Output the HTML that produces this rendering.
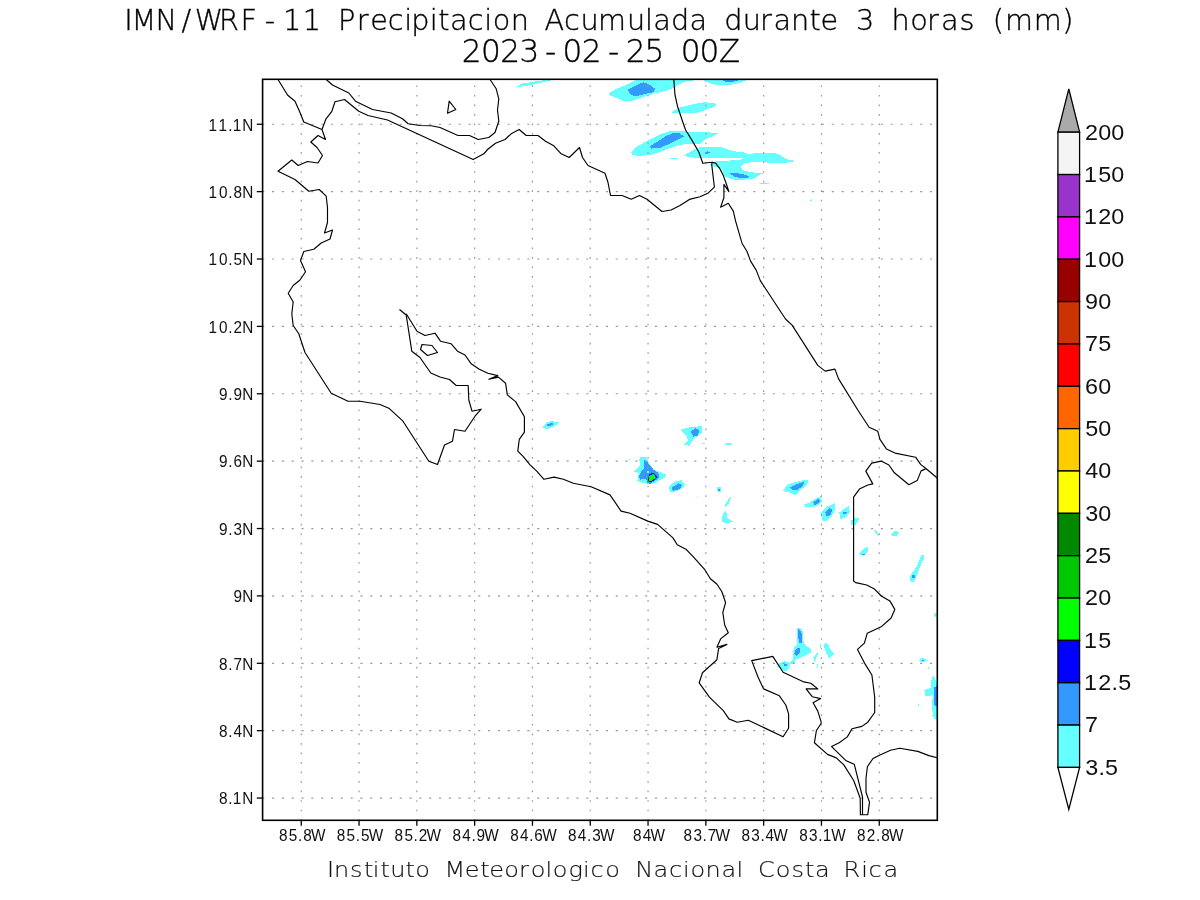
<!DOCTYPE html>
<html><head><meta charset="utf-8"><title>IMN/WRF-11 Precipitacion Acumulada</title>
<style>html,body{margin:0;padding:0;background:#fff;width:1200px;height:900px;overflow:hidden}svg{display:block}</style>
</head><body>
<svg width="1200" height="900" viewBox="0 0 1200 900">
<rect x="0" y="0" width="1200" height="900" fill="#fff"/>
<g shape-rendering="crispEdges">
<polygon points="517.0,86.5 522.0,83.5 535.0,81.5 545.0,80.0 553.0,80.0 545.0,81.7 533.0,84.5 527.0,85.7 521.0,86.7" fill="#66ffff"/>
<polygon points="609.2,93.0 616.7,88.8 626.7,84.7 635.0,80.5 635.0,80.0 696.7,80.0 686.7,81.3 681.7,83.0 670.0,89.7 653.3,93.8 633.3,100.5 623.3,101.3 616.7,98.0 610.0,95.5" fill="#66ffff"/>
<polygon points="627.5,89.7 635.8,85.5 643.3,82.2 650.0,84.7 655.0,88.8 653.3,92.2 635.0,96.3 630.8,94.7" fill="#3399ff"/>
<polygon points="703.0,80.0 747.0,80.0 740.0,83.0 727.0,85.5 715.0,84.5 706.0,82.0" fill="#66ffff"/>
<polygon points="722.0,80.0 740.0,80.0 733.0,81.7 725.0,81.7" fill="#3399ff"/>
<polygon points="671.7,112.2 678.3,108.0 695.0,103.8 705.0,102.2 716.7,103.8 715.0,106.3 696.7,113.0 686.7,113.3 673.3,113.0" fill="#66ffff"/>
<polygon points="631.2,152.2 635.0,147.8 647.0,141.0 659.0,135.0 669.5,131.2 683.0,131.2 695.0,132.3 704.0,132.0 718.2,133.2 713.0,135.8 704.0,140.2 701.0,143.7 690.5,144.0 680.0,144.7 665.0,150.0 650.0,155.2 636.5,155.7 632.0,154.5" fill="#66ffff"/>
<polygon points="650.0,146.3 656.0,142.5 665.0,136.5 672.5,133.2 680.0,133.5 683.8,136.5 677.0,140.2 660.5,147.8 651.5,148.5" fill="#3399ff"/>
<polygon points="684.0,155.5 690.0,152.0 697.0,148.0 703.0,146.5 718.0,146.5 724.0,148.0 732.0,151.0 744.0,152.5 749.0,154.0 756.0,153.0 775.0,153.0 780.0,155.0 786.0,159.0 796.0,161.2 788.0,162.5 773.0,163.5 760.0,161.5 745.0,163.0 741.0,166.0 742.0,170.0 750.0,172.0 763.0,173.5 760.0,174.5 754.0,178.5 740.0,180.0 734.0,179.5 725.0,177.0 722.0,170.0 720.0,168.0 714.0,166.5 710.0,164.5 713.0,162.5 716.0,161.5 730.0,160.5 741.0,159.5 742.0,158.5 730.0,157.5 717.0,158.0 703.0,158.5 690.0,157.0 684.0,156.0" fill="#66ffff"/>
<polygon points="730.0,173.5 736.0,173.0 744.0,174.5 749.0,176.5 748.0,178.0 740.0,178.0 734.0,176.5" fill="#3399ff"/>
<polygon points="705.0,152.5 707.5,151.3 710.0,152.3 708.0,153.6 705.5,153.6" fill="#3399ff"/>
<polygon points="669.5,157.5 677.7,157.5 677.7,158.8 669.5,158.8" fill="#66ffff"/>
<polygon points="760.0,183.0 768.5,183.0 768.5,184.0 760.0,184.0" fill="#66ffff"/>
<polygon points="542.5,427.4 546.5,422.8 552.0,421.0 559.3,422.5 553.8,426.5 546.5,429.3" fill="#66ffff"/>
<polygon points="546.5,424.3 552.0,423.2 553.8,424.3 550.2,426.1 546.9,425.8" fill="#3399ff"/>
<polygon points="640.1,457.5 646.0,457.3 647.7,460.4 649.8,464.7 654.5,469.7 661.3,472.7 665.9,474.4 665.0,477.3 660.4,479.9 657.9,481.6 655.3,482.8 649.8,484.5 646.9,484.1 644.8,482.8 640.6,482.4 637.2,480.7 638.0,478.2 638.9,473.1 634.2,471.4 636.8,468.9 640.1,465.1 639.3,459.6" fill="#66ffff"/>
<polygon points="644.4,460.4 646.5,460.9 650.3,465.9 653.6,469.7 657.5,472.3 659.6,476.1 657.9,479.0 653.6,481.6 650.3,483.7 647.7,483.3 646.0,479.0 642.7,478.6 640.1,479.9 638.9,476.9 641.0,471.8 643.9,468.9 643.9,463.0" fill="#3399ff"/>
<polygon points="646.9,471.2 648.8,471.2 648.8,472.9 646.9,472.9" fill="#66ffff"/>
<polygon points="648.6,475.6 649.8,474.0 653.2,472.3 655.8,474.8 657.0,476.9 655.3,479.4 652.0,481.6 648.6,481.6 648.2,479.0" fill="#0000ff"/>
<polygon points="649.4,476.1 652.8,474.0 654.9,475.2 655.8,477.3 653.6,479.4 651.1,481.2 649.0,481.1 649.2,478.2" fill="#00ff00"/>
<polygon points="668.4,487.0 674.8,481.5 681.3,480.2 684.9,484.2 682.2,488.8 674.8,491.6 670.3,492.5" fill="#66ffff"/>
<polygon points="671.2,487.9 678.5,483.3 682.2,485.2 680.3,488.8 673.0,490.7" fill="#3399ff"/>
<polygon points="681.3,429.3 689.5,427.4 702.3,426.1 702.3,432.9 695.0,437.5 691.3,442.1 689.5,445.7 684.0,444.8 687.7,440.3 686.7,435.7 683.1,432.9" fill="#66ffff"/>
<polygon points="690.4,431.1 695.9,428.3 699.6,430.2 697.7,435.7 693.2,436.6" fill="#3399ff"/>
<polygon points="702.0,443.0 705.0,443.0 705.0,444.0 702.0,444.0" fill="#66ffff"/>
<polygon points="724.0,443.0 732.6,443.3 731.0,445.0 726.0,444.5" fill="#66ffff"/>
<polygon points="717.0,487.5 720.5,487.0 720.7,491.6 718.0,491.6" fill="#66ffff"/>
<polygon points="718.0,488.5 719.8,488.5 719.8,490.5 718.0,490.5" fill="#3399ff"/>
<polygon points="724.3,506.0 729.0,498.0 731.7,496.0 729.0,503.0 726.0,507.0" fill="#66ffff"/>
<polygon points="721.6,521.0 723.0,513.0 726.0,510.8 727.5,518.0 732.6,521.5 726.0,523.7" fill="#66ffff"/>
<polygon points="782.8,490.5 788.4,484.2 795.5,482.0 804.0,479.9 808.3,480.6 806.8,484.9 802.6,488.4 798.3,492.7 794.8,495.5 791.3,492.7 784.2,491.3" fill="#66ffff"/>
<polygon points="789.8,487.7 796.9,484.2 804.0,482.0 803.3,485.6 796.2,490.5 792.7,489.8" fill="#3399ff"/>
<polygon points="804.0,504.0 808.3,503.3 813.9,499.8 821.0,496.2 821.7,501.9 818.2,505.4 812.5,507.5 805.4,506.8" fill="#66ffff"/>
<polygon points="813.2,502.6 818.2,498.3 820.3,500.5 818.2,504.0 814.6,504.7" fill="#3399ff"/>
<polygon points="821.0,512.5 826.7,506.8 834.5,503.3 835.5,509.7 830.9,516.7 826.7,521.3 822.4,520.3" fill="#66ffff"/>
<polygon points="825.2,512.5 829.5,508.3 832.3,509.0 830.9,514.6 826.7,516.7" fill="#3399ff"/>
<polygon points="839.4,512.5 843.7,509.0 848.6,506.1 850.0,511.8 846.5,516.7 840.1,519.6" fill="#66ffff"/>
<polygon points="843.0,512.5 847.0,512.2 846.5,513.5 843.5,513.6" fill="#3399ff"/>
<polygon points="850.8,521.0 855.0,517.5 859.3,517.5 857.8,521.7 855.0,525.2 850.8,525.2" fill="#66ffff"/>
<polygon points="874.1,530.2 875.5,530.0 879.1,534.5 878.5,536.0 876.0,533.5" fill="#66ffff"/>
<polygon points="891.1,534.5 895.0,531.0 898.9,532.0 897.0,535.9 892.0,536.0" fill="#66ffff"/>
<polygon points="859.3,553.6 864.2,547.9 867.8,547.2 867.5,552.2 863.5,555.7 860.7,555.0" fill="#66ffff"/>
<polygon points="862.0,554.0 864.5,553.5 864.5,554.6 862.0,554.8" fill="#3399ff"/>
<polygon points="919.5,559.0 922.0,555.5 924.4,555.0 923.5,560.0 919.5,560.0" fill="#66ffff"/>
<polygon points="809.5,201.2 811.5,199.2 812.3,201.5" fill="#66ffff"/>
<polygon points="928.2,666.8 929.4,666.8 929.4,669.0 928.2,669.0" fill="#66ffff"/>
<polygon points="917.5,704.0 918.8,704.0 918.8,705.5 917.5,705.5" fill="#66ffff"/>
<polygon points="628.5,458.6 630.0,458.6 630.0,459.8 628.5,459.8" fill="#66ffff"/>
<polygon points="696.8,497.0 697.9,497.0 697.9,498.0 696.8,498.0" fill="#66ffff"/>
<polygon points="909.7,577.0 912.8,571.7 917.1,566.4 921.3,554.8 924.4,554.4 923.4,559.0 919.2,568.5 916.0,578.0 913.9,582.2 910.7,582.2" fill="#66ffff"/>
<polygon points="911.8,575.5 914.5,574.5 914.8,577.5 912.3,578.0" fill="#3399ff"/>
<polygon points="934.0,614.0 935.5,612.8 937.0,613.0 937.0,617.0 935.0,617.0" fill="#66ffff"/>
<polygon points="919.2,660.5 921.5,658.2 924.5,658.5 926.6,660.5 923.0,662.4 920.0,662.0" fill="#66ffff"/>
<polygon points="921.5,659.8 923.5,659.8 923.5,661.0 921.5,661.0" fill="#3399ff"/>
<polygon points="924.4,689.9 930.8,687.8 931.8,677.2 934.0,676.2 937.0,683.6 937.0,719.4 934.0,719.4 931.8,706.8 932.9,695.2 925.5,696.2" fill="#66ffff"/>
<polygon points="934.0,687.8 937.0,685.7 937.0,706.8 934.0,704.7" fill="#3399ff"/>
<polygon points="797.3,628.0 801.3,628.7 803.3,632.7 803.3,635.3 802.7,639.3 804.0,644.0 811.3,649.3 810.7,652.7 801.3,657.3 795.3,660.0 794.7,662.7 790.0,664.0 789.3,668.0 786.7,670.7 783.3,670.7 777.3,666.7 778.7,663.3 782.0,662.0 785.3,661.3 790.0,662.7 792.7,660.0 792.7,653.3 794.0,647.3 796.7,644.7 797.3,638.0 796.7,632.0" fill="#66ffff"/>
<polygon points="798.3,629.3 801.3,631.3 802.0,636.7 801.7,643.3 799.3,643.3 798.3,637.3" fill="#3399ff"/>
<polygon points="794.7,651.3 798.0,647.3 800.7,648.7 799.3,653.3 796.7,655.7 794.3,654.0" fill="#3399ff"/>
<polygon points="784.0,664.3 786.5,664.0 787.7,666.3 784.0,666.3" fill="#3399ff"/>
<polygon points="812.7,657.3 816.0,654.7 817.3,650.3 817.7,654.7 815.7,658.3 815.3,661.7 814.3,661.7 814.0,659.0" fill="#66ffff"/>
<polygon points="820.0,644.3 821.0,644.3 821.0,647.7 820.0,647.7" fill="#66ffff"/>
<polygon points="817.0,664.0 818.3,664.5 818.3,667.7 817.0,667.7" fill="#66ffff"/>
<polygon points="824.3,643.7 826.7,643.0 828.7,645.0 829.3,648.0 834.7,654.3 831.3,656.0 828.7,658.7 828.0,656.0 824.7,649.3 824.0,645.3" fill="#66ffff"/>
</g>
<g stroke="#999" stroke-width="1.2"><line x1="301.25" y1="820.90" x2="301.25" y2="80.1" stroke-dasharray="1.7 7.83"/><line x1="359.05" y1="820.90" x2="359.05" y2="80.1" stroke-dasharray="1.7 7.83"/><line x1="416.85" y1="820.90" x2="416.85" y2="80.1" stroke-dasharray="1.7 7.83"/><line x1="474.65" y1="820.90" x2="474.65" y2="80.1" stroke-dasharray="1.7 7.83"/><line x1="532.45" y1="820.90" x2="532.45" y2="80.1" stroke-dasharray="1.7 7.83"/><line x1="590.25" y1="820.90" x2="590.25" y2="80.1" stroke-dasharray="1.7 7.83"/><line x1="648.05" y1="820.90" x2="648.05" y2="80.1" stroke-dasharray="1.7 7.83"/><line x1="705.85" y1="820.90" x2="705.85" y2="80.1" stroke-dasharray="1.7 7.83"/><line x1="763.65" y1="820.90" x2="763.65" y2="80.1" stroke-dasharray="1.7 7.83"/><line x1="821.45" y1="820.90" x2="821.45" y2="80.1" stroke-dasharray="1.7 7.83"/><line x1="879.25" y1="820.90" x2="879.25" y2="80.1" stroke-dasharray="1.7 7.83"/><line x1="262.20" y1="124.25" x2="936.5" y2="124.25" stroke-dasharray="2.1 7.72"/><line x1="262.20" y1="191.63" x2="936.5" y2="191.63" stroke-dasharray="2.1 7.72"/><line x1="262.20" y1="259.01" x2="936.5" y2="259.01" stroke-dasharray="2.1 7.72"/><line x1="262.20" y1="326.39" x2="936.5" y2="326.39" stroke-dasharray="2.1 7.72"/><line x1="262.20" y1="393.77" x2="936.5" y2="393.77" stroke-dasharray="2.1 7.72"/><line x1="262.20" y1="461.15" x2="936.5" y2="461.15" stroke-dasharray="2.1 7.72"/><line x1="262.20" y1="528.53" x2="936.5" y2="528.53" stroke-dasharray="2.1 7.72"/><line x1="262.20" y1="595.91" x2="936.5" y2="595.91" stroke-dasharray="2.1 7.72"/><line x1="262.20" y1="663.29" x2="936.5" y2="663.29" stroke-dasharray="2.1 7.72"/><line x1="262.20" y1="730.67" x2="936.5" y2="730.67" stroke-dasharray="2.1 7.72"/><line x1="262.20" y1="798.05" x2="936.5" y2="798.05" stroke-dasharray="2.1 7.72"/></g>
<g fill="none" stroke="#000" stroke-width="1.15" stroke-linejoin="round"><polyline points="278.0,79.5 287.5,95.0 295.0,101.2 300.0,112.5 303.8,122.0 322.0,129.5"/><polyline points="322.0,129.5 325.5,139.5 318.0,135.5 310.8,142.0 317.0,147.5 322.5,155.5 318.0,163.0 307.5,161.5 298.2,165.5 291.8,160.0 278.0,171.2 295.0,179.5 308.8,191.2 319.2,189.5 326.2,196.2 327.5,207.5 327.5,222.5 324.5,233.0 332.5,230.0 330.0,239.0 321.2,243.0 313.8,249.2 303.8,251.5 300.5,260.5 305.5,271.8 300.0,280.0 293.2,285.5 288.2,293.2 293.2,302.0 291.8,313.8 293.2,325.5 298.8,333.8 305.0,352.5 331.2,393.2 348.0,401.2 360.0,401.2 380.0,404.5 388.8,408.2 403.0,421.2 428.8,461.2 437.5,464.5 444.5,445.0 452.5,441.2 454.5,429.5 465.0,431.2 475.0,416.2 481.2,409.2 472.0,411.2 468.8,400.0 468.2,385.5 456.2,385.5 449.5,379.5 440.0,377.0 430.8,373.0 420.0,357.5 411.8,351.2 406.2,315.0 399.5,309.5"/><polyline points="406.2,313.8 417.0,331.2 425.0,335.5 435.0,333.2 440.5,341.2 451.2,343.8 457.5,351.2 465.0,355.0 471.2,363.8 478.9,368.9 487.8,373.3 497.8,375.6 488.9,379.3 498.4,377.1 505.6,383.3 507.3,394.9 515.6,401.6 524.4,416.7 524.4,432.2 519.3,439.3 517.8,451.1 523.3,456.7 529.6,464.4 536.7,471.1 544.0,479.3 554.0,477.1 563.3,479.3 573.3,483.3 591.1,486.7 610.0,494.9 621.1,511.1 630.0,513.3 647.8,521.1 657.6,524.4 673.0,537.9 677.2,544.7 686.4,549.6 693.8,557.4 704.8,569.7 710.4,578.7 717.0,584.3 721.9,591.7 725.6,602.7 722.8,612.5 724.7,625.0 728.3,632.8 720.6,638.9 716.9,647.2 726.9,644.4 718.6,648.6 716.9,659.7 702.5,672.8 699.2,682.8 709.4,697.2 723.3,710.6 728.9,718.9 737.2,722.2 748.3,720.3 783.1,736.7 788.6,728.3 788.6,713.9 785.8,705.0 779.4,695.8 763.6,688.9 758.1,677.2 751.7,660.6 772.8,656.4 783.1,672.2 803.9,681.9 810.8,683.3 817.8,688.9 806.1,688.9 812.2,696.7 820.6,698.6 813.1,702.8 817.8,711.1 821.1,721.8 821.1,723.5 816.4,730.5 814.4,742.8 827.5,754.4 836.3,757.9 843.8,764.9 853.8,780.7 860.2,798.2 860.4,814.7 867.8,814.7 869.5,802.3 866.0,792.3 866.0,778.3 867.4,766.7 873.0,758.5 880.0,755.0 890.5,750.3 899.8,748.2 917.8,751.4 928.9,755.6 937.2,757.8"/><polyline points="322.0,129.5 325.8,119.2 331.7,111.7 335.0,101.7 344.5,99.5 358.8,111.2 368.0,115.5 387.5,120.0 473.2,159.5 483.8,153.8 487.5,149.5 495.5,143.2 505.0,139.5 511.2,133.8 519.2,129.5 526.2,135.5 538.0,135.5 545.5,141.2 553.8,145.8 561.2,153.8 569.2,157.5 579.5,147.5 582.5,157.5 588.0,165.5 605.0,173.2 608.0,182.5 610.5,195.5 622.0,195.5 631.2,199.2 639.5,195.5 647.0,199.2 662.0,211.5 671.1,210.0 680.0,205.6 689.4,199.4 700.0,196.7 707.8,193.3 714.4,187.2 711.7,164.4 712.2,162.2"/><polyline points="326.2,79.5 332.5,85.0 348.8,93.0 355.5,101.2 372.5,109.5 391.2,113.0 402.5,118.8 408.2,123.8 420.0,125.5 431.2,125.8 440.0,127.5 458.0,135.5 469.5,135.5 478.2,139.5 488.8,137.5 495.0,132.5 498.8,121.2 497.5,110.0 498.8,98.8 496.2,88.8 490.0,79.5"/><polyline points="673.8,79.5 675.0,95.0 677.5,106.2 682.5,121.2 685.6,130.0 692.2,140.6 698.9,152.2 702.8,163.3 712.2,162.2 715.6,163.1 720.0,168.9 723.3,175.6 726.1,183.3 728.9,191.7 723.9,184.4 723.9,197.8 720.6,207.2 728.3,203.3 733.3,211.1 735.6,221.1 742.0,243.2 746.9,251.3 750.6,261.1 756.2,270.1 760.3,280.6 785.5,319.0 792.1,325.1 817.8,365.4 825.1,371.1 834.9,369.1 838.6,378.9 857.8,410.0 869.1,427.2 877.8,431.3 880.0,439.4 886.4,448.9 895.0,453.1 915.6,457.2 920.6,464.4 925.6,468.3 937.2,478.0"/><polyline points="925.6,468.9 921.1,470.9 917.2,480.6 908.9,484.7 894.4,472.8 888.9,465.0 881.1,461.1 871.7,463.1 865.8,471.1 872.8,483.9 867.8,485.0 859.4,489.1 853.6,497.2 853.6,581.0 855.7,582.6 866.7,585.0 874.0,588.7 881.3,596.0 889.9,600.9 894.8,609.4 891.1,618.0 881.7,626.4 867.2,633.3 864.4,643.1 857.5,649.4 865.0,663.9 871.9,675.0 874.7,697.2 874.7,712.5 867.8,722.2 861.9,726.4 852.0,728.8 847.3,736.9 839.2,742.8 831.6,746.6 846.2,760.8 854.3,764.3 862.5,797.0 862.5,814.7"/><polygon points="422.0,344.5 432.0,345.5 437.5,352.5 427.5,355.5 420.5,349.5"/><polygon points="449.2,101.2 455.8,109.5 447.5,113.2"/></g>
<rect x="262.6" y="79.3" width="674.7" height="741.0" fill="none" stroke="#000" stroke-width="1.6"/>
<g stroke="#000" stroke-width="1.3"><line x1="301.25" y1="820.3" x2="301.25" y2="825.8"/><line x1="256.8" y1="124.25" x2="262.6" y2="124.25"/><line x1="359.05" y1="820.3" x2="359.05" y2="825.8"/><line x1="256.8" y1="191.63" x2="262.6" y2="191.63"/><line x1="416.85" y1="820.3" x2="416.85" y2="825.8"/><line x1="256.8" y1="259.01" x2="262.6" y2="259.01"/><line x1="474.65" y1="820.3" x2="474.65" y2="825.8"/><line x1="256.8" y1="326.39" x2="262.6" y2="326.39"/><line x1="532.45" y1="820.3" x2="532.45" y2="825.8"/><line x1="256.8" y1="393.77" x2="262.6" y2="393.77"/><line x1="590.25" y1="820.3" x2="590.25" y2="825.8"/><line x1="256.8" y1="461.15" x2="262.6" y2="461.15"/><line x1="648.05" y1="820.3" x2="648.05" y2="825.8"/><line x1="256.8" y1="528.53" x2="262.6" y2="528.53"/><line x1="705.85" y1="820.3" x2="705.85" y2="825.8"/><line x1="256.8" y1="595.91" x2="262.6" y2="595.91"/><line x1="763.65" y1="820.3" x2="763.65" y2="825.8"/><line x1="256.8" y1="663.29" x2="262.6" y2="663.29"/><line x1="821.45" y1="820.3" x2="821.45" y2="825.8"/><line x1="256.8" y1="730.67" x2="262.6" y2="730.67"/><line x1="879.25" y1="820.3" x2="879.25" y2="825.8"/><line x1="256.8" y1="798.05" x2="262.6" y2="798.05"/></g>
<g stroke="#000" stroke-width="1.3"><polygon points="1057.9,132.2 1068.8,88.9 1079.6,132.2" fill="#aaaaaa"/><rect x="1057.9" y="132.20" width="21.7" height="42.35" fill="#f4f4f4"/><rect x="1057.9" y="174.55" width="21.7" height="42.35" fill="#9933cc"/><rect x="1057.9" y="216.90" width="21.7" height="42.35" fill="#ff00ff"/><rect x="1057.9" y="259.25" width="21.7" height="42.35" fill="#990000"/><rect x="1057.9" y="301.60" width="21.7" height="42.35" fill="#cc3300"/><rect x="1057.9" y="343.95" width="21.7" height="42.35" fill="#ff0000"/><rect x="1057.9" y="386.30" width="21.7" height="42.35" fill="#ff6600"/><rect x="1057.9" y="428.65" width="21.7" height="42.35" fill="#ffcc00"/><rect x="1057.9" y="471.00" width="21.7" height="42.35" fill="#ffff00"/><rect x="1057.9" y="513.35" width="21.7" height="42.35" fill="#008800"/><rect x="1057.9" y="555.70" width="21.7" height="42.35" fill="#00c800"/><rect x="1057.9" y="598.05" width="21.7" height="42.35" fill="#00ff00"/><rect x="1057.9" y="640.40" width="21.7" height="42.35" fill="#0000ff"/><rect x="1057.9" y="682.75" width="21.7" height="42.35" fill="#3399ff"/><rect x="1057.9" y="725.10" width="21.7" height="42.35" fill="#66ffff"/><polygon points="1057.9,767.45 1068.8,809.3 1079.6,767.45" fill="#fff"/></g>
<g><text transform="translate(0 840.70) scale(0.4400 0.5)" x="634.11 656.38 677.30 689.11 706.69" style="font-family:'Liberation Sans', sans-serif;font-size:34.84px" fill="#111">85.8W</text><text transform="translate(0 840.70) scale(0.4400 0.5)" x="765.47 787.74 808.67 820.47 838.05" style="font-family:'Liberation Sans', sans-serif;font-size:34.84px" fill="#111">85.5W</text><text transform="translate(0 840.70) scale(0.4400 0.5)" x="896.84 919.11 940.03 951.56 969.42" style="font-family:'Liberation Sans', sans-serif;font-size:34.84px" fill="#111">85.2W</text><text transform="translate(0 840.70) scale(0.4400 0.5)" x="1028.20 1050.47 1071.39 1082.93 1100.78" style="font-family:'Liberation Sans', sans-serif;font-size:34.84px" fill="#111">84.9W</text><text transform="translate(0 840.70) scale(0.4400 0.5)" x="1159.56 1181.84 1202.76 1214.29 1232.14" style="font-family:'Liberation Sans', sans-serif;font-size:34.84px" fill="#111">84.6W</text><text transform="translate(0 840.70) scale(0.4400 0.5)" x="1290.93 1313.20 1334.12 1345.93 1363.51" style="font-family:'Liberation Sans', sans-serif;font-size:34.84px" fill="#111">84.3W</text><text transform="translate(0 840.70) scale(0.4400 0.5)" x="1438.65 1460.93 1478.51" style="font-family:'Liberation Sans', sans-serif;font-size:34.84px" fill="#111">84W</text><text transform="translate(0 840.70) scale(0.4400 0.5)" x="1553.65 1575.93 1596.85 1608.38 1626.24" style="font-family:'Liberation Sans', sans-serif;font-size:34.84px" fill="#111">83.7W</text><text transform="translate(0 840.70) scale(0.4400 0.5)" x="1685.02 1707.29 1728.21 1740.02 1757.60" style="font-family:'Liberation Sans', sans-serif;font-size:34.84px" fill="#111">83.4W</text><text transform="translate(0 840.70) scale(0.4400 0.5)" x="1816.38 1838.65 1859.58 1869.81 1888.96" style="font-family:'Liberation Sans', sans-serif;font-size:34.84px" fill="#111">83.1W</text><text transform="translate(0 840.70) scale(0.4400 0.5)" x="1947.74 1969.75 1990.94 2002.74 2020.33" style="font-family:'Liberation Sans', sans-serif;font-size:34.84px" fill="#111">82.8W</text><text transform="translate(0 130.55) scale(0.4400 0.5)" x="474.13 496.41 518.89 529.13 550.55" style="font-family:'Liberation Sans', sans-serif;font-size:34.84px" fill="#111">11.1N</text><text transform="translate(0 197.93) scale(0.4400 0.5)" x="474.13 497.70 518.89 530.70 550.55" style="font-family:'Liberation Sans', sans-serif;font-size:34.84px" fill="#111">10.8N</text><text transform="translate(0 265.31) scale(0.4400 0.5)" x="474.13 497.70 518.89 530.70 550.55" style="font-family:'Liberation Sans', sans-serif;font-size:34.84px" fill="#111">10.5N</text><text transform="translate(0 332.69) scale(0.4400 0.5)" x="474.13 497.70 518.89 530.43 550.55" style="font-family:'Liberation Sans', sans-serif;font-size:34.84px" fill="#111">10.2N</text><text transform="translate(0 400.07) scale(0.4400 0.5)" x="497.70 518.89 530.43 550.55" style="font-family:'Liberation Sans', sans-serif;font-size:34.84px" fill="#111">9.9N</text><text transform="translate(0 467.45) scale(0.4400 0.5)" x="497.70 518.89 530.43 550.55" style="font-family:'Liberation Sans', sans-serif;font-size:34.84px" fill="#111">9.6N</text><text transform="translate(0 534.83) scale(0.4400 0.5)" x="497.70 518.89 530.70 550.55" style="font-family:'Liberation Sans', sans-serif;font-size:34.84px" fill="#111">9.3N</text><text transform="translate(0 602.21) scale(0.4400 0.5)" x="530.43 550.55" style="font-family:'Liberation Sans', sans-serif;font-size:34.84px" fill="#111">9N</text><text transform="translate(0 669.59) scale(0.4400 0.5)" x="497.97 518.89 530.43 550.55" style="font-family:'Liberation Sans', sans-serif;font-size:34.84px" fill="#111">8.7N</text><text transform="translate(0 736.97) scale(0.4400 0.5)" x="497.97 518.89 530.70 550.55" style="font-family:'Liberation Sans', sans-serif;font-size:34.84px" fill="#111">8.4N</text><text transform="translate(0 804.35) scale(0.4400 0.5)" x="497.97 518.89 529.13 550.55" style="font-family:'Liberation Sans', sans-serif;font-size:34.84px" fill="#111">8.1N</text><text transform="translate(0 139.55) scale(0.5400 0.5)" x="2009.23 2033.67 2058.12" style="font-family:'Liberation Sans', sans-serif;font-size:43.24px" fill="#111">200</text><text transform="translate(0 181.90) scale(0.5400 0.5)" x="2007.41 2034.01 2058.12" style="font-family:'Liberation Sans', sans-serif;font-size:43.24px" fill="#111">150</text><text transform="translate(0 224.25) scale(0.5400 0.5)" x="2007.41 2033.67 2058.12" style="font-family:'Liberation Sans', sans-serif;font-size:43.24px" fill="#111">120</text><text transform="translate(0 266.60) scale(0.5400 0.5)" x="2007.41 2033.67 2058.12" style="font-family:'Liberation Sans', sans-serif;font-size:43.24px" fill="#111">100</text><text transform="translate(0 308.95) scale(0.5400 0.5)" x="2009.23 2033.67" style="font-family:'Liberation Sans', sans-serif;font-size:43.24px" fill="#111">90</text><text transform="translate(0 351.30) scale(0.5400 0.5)" x="2009.23 2034.01" style="font-family:'Liberation Sans', sans-serif;font-size:43.24px" fill="#111">75</text><text transform="translate(0 393.65) scale(0.5400 0.5)" x="2009.23 2033.67" style="font-family:'Liberation Sans', sans-serif;font-size:43.24px" fill="#111">60</text><text transform="translate(0 436.00) scale(0.5400 0.5)" x="2009.57 2033.67" style="font-family:'Liberation Sans', sans-serif;font-size:43.24px" fill="#111">50</text><text transform="translate(0 478.35) scale(0.5400 0.5)" x="2009.57 2033.67" style="font-family:'Liberation Sans', sans-serif;font-size:43.24px" fill="#111">40</text><text transform="translate(0 520.70) scale(0.5400 0.5)" x="2009.57 2033.67" style="font-family:'Liberation Sans', sans-serif;font-size:43.24px" fill="#111">30</text><text transform="translate(0 563.05) scale(0.5400 0.5)" x="2009.23 2034.01" style="font-family:'Liberation Sans', sans-serif;font-size:43.24px" fill="#111">25</text><text transform="translate(0 605.40) scale(0.5400 0.5)" x="2009.23 2033.67" style="font-family:'Liberation Sans', sans-serif;font-size:43.24px" fill="#111">20</text><text transform="translate(0 647.75) scale(0.5400 0.5)" x="2007.41 2034.01" style="font-family:'Liberation Sans', sans-serif;font-size:43.24px" fill="#111">15</text><text transform="translate(0 690.10) scale(0.5400 0.5)" x="2007.41 2033.67 2058.52 2070.86" style="font-family:'Liberation Sans', sans-serif;font-size:43.24px" fill="#111">12.5</text><text transform="translate(0 732.45) scale(0.5400 0.5)" x="2009.23" style="font-family:'Liberation Sans', sans-serif;font-size:43.24px" fill="#111">7</text><text transform="translate(0 774.80) scale(0.5400 0.5)" x="2009.57 2034.07 2046.42" style="font-family:'Liberation Sans', sans-serif;font-size:43.24px" fill="#111">3.5</text><text transform="translate(0 29.70) scale(0.4954 0.5)" x="250.6 265.4 313.9 366.5 393.2 442.1 485.4 534.4 571.1 611.1 652.0 682.3 720.2 747.2 782.9 815.9 830.4 867.6 884.5 908.4 944.2 977.4 994.5 1031.0 1071.7 1099.3 1138.4 1171.9 1207.3 1265.6 1302.0 1318.6 1354.3 1391.7 1431.3 1462.1 1499.4 1534.2 1561.5 1596.6 1634.3 1656.2 1695.9 1727.8 1768.7 1799.7 1837.3 1871.3 1899.4 1936.6 1970.8 2003.7 2028.6 2086.7 2144.3" style="font-family:'DejaVu Sans', 'Liberation Sans', sans-serif;font-weight:200;font-size:58.01px" fill="#000" stroke="#000" stroke-width="0.70">IMN/WRF-11 Precipitacion Acumulada durante 3 horas (mm)</text><text transform="translate(0 61.70) scale(0.4930 0.5)" x="936.8 975.5 1014.5 1053.9 1105.4 1141.2 1180.2 1233.2 1269.3 1307.5 1351.7 1381.0 1418.9 1458.0" style="font-family:'DejaVu Sans', 'Liberation Sans', sans-serif;font-weight:200;font-size:63.18px" fill="#000" stroke="#000" stroke-width="0.70">2023-02-25 00Z</text><text transform="translate(0 876.70) scale(0.5542 0.5)" x="590.2 602.8 631.7 657.0 672.7 686.4 704.2 731.5 749.3 779.8 802.1 838.4 866.8 882.8 910.1 936.6 957.7 984.4 997.4 1025.7 1052.1 1065.5 1092.1 1122.6 1146.4 1179.2 1207.1 1232.5 1245.8 1273.1 1301.9 1329.1 1345.1 1367.8 1399.9 1428.3 1452.7 1470.4 1500.9 1522.1 1554.1 1567.1 1594.4" style="font-family:'DejaVu Sans', 'Liberation Sans', sans-serif;font-weight:200;font-size:43.30px" fill="#111" stroke="#111" stroke-width="0.30">Instituto Meteorologico Nacional Costa Rica</text></g>
</svg>
</body></html>
